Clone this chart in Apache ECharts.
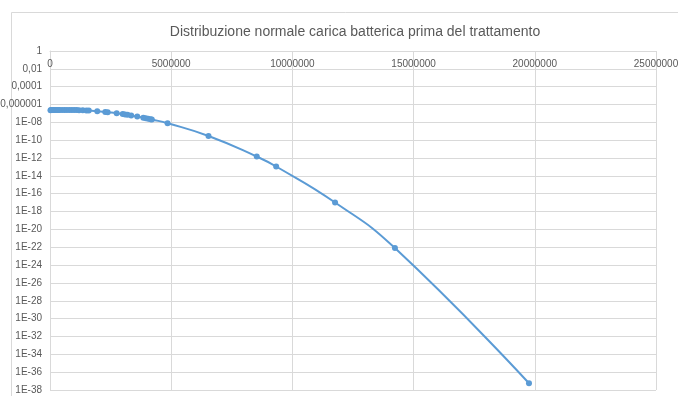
<!DOCTYPE html>
<html>
<head>
<meta charset="utf-8">
<title>Distribuzione normale carica batterica</title>
<script src="https://cdn.jsdelivr.net/npm/echarts@6/dist/echarts.min.js"></script>
<style>
  html, body { margin: 0; padding: 0; background: #ffffff; }
  #chart { width: 678px; height: 396px; }
</style>
</head>
<body>
<div id="chart"></div>
<script>
// Carica batterica (UFC) e densità di probabilità normale corrispondente
const caricaBatterica = [
  20000, 50000, 80000, 100000, 150000, 200000, 250000, 300000, 350000, 400000,
  500000, 600000, 700000, 800000, 900000, 1000000, 1100000, 1200000, 1350000,
  1500000, 1600000, 1950000, 2280000, 2380000, 2750000, 3000000, 3100000,
  3200000, 3350000, 3600000, 3850000, 3950000, 4050000, 4150000, 4200000,
  4850000, 6540000, 8530000, 9330000, 11760000, 14230000, 19760000
];
const densita = [
  2.34e-7, 2.36e-7, 2.38e-7, 2.38e-7, 2.41e-7, 2.43e-7, 2.45e-7, 2.46e-7, 2.48e-7, 2.49e-7,
  2.51e-7, 2.51e-7, 2.51e-7, 2.50e-7, 2.47e-7, 2.44e-7, 2.40e-7, 2.35e-7, 2.27e-7,
  2.16e-7, 2.09e-7, 1.79e-7, 1.48e-7, 1.38e-7, 1.05e-7, 8.44e-8, 7.69e-8,
  6.97e-8, 5.98e-8, 4.54e-8, 3.36e-8, 2.96e-8, 2.60e-8, 2.28e-8, 2.13e-8,
  8.0e-9, 2.94e-10, 1.47e-12, 1.13e-13, 1.05e-17, 8.1e-23, 5.7e-38
];

// Etichette dell'asse logaritmico (una ogni due potenze di dieci)
const etichetteY = [
  '1', '0,01', '0,0001', '0,000001', '1E-08', '1E-10', '1E-12', '1E-14', '1E-16',
  '1E-18', '1E-20', '1E-22', '1E-24', '1E-26', '1E-28', '1E-30', '1E-32',
  '1E-34', '1E-36', '1E-38'
];
const xMin = 0, xMax = 25000000, xPasso = 5000000;

const titolo = 'Distribuzione normale carica batterica prima del trattamento';

const punti = caricaBatterica.map((x, i) => [x, densita[i]]);

const FONT = "'Liberation Sans', Arial, sans-serif";
const GRIGIO = '#d9d9d9';
const TESTO = '#595959';
const BLU = '#5b9bd5';

// Asse logaritmico in base 1e19: l'estensione "nice" ricavata dai dati va
// da 1e-38 a 1; le divisioni cadono ogni due decadi (passo 2/19).
const BASE_LOG = 1e19;
const PASSO_LOG = 2 / 19;

const chart = echarts.init(document.getElementById('chart'), null, { renderer: 'canvas' });

chart.setOption({
  backgroundColor: '#ffffff',
  animation: false,
  textStyle: { fontFamily: FONT },
  title: {
    text: titolo,
    left: 350,
    top: 20,
    textAlign: 'center',
    textStyle: { fontFamily: FONT, fontSize: 14, fontWeight: 'normal', color: TESTO }
  },
  graphic: [{
    type: 'rect',
    silent: true,
    z: -10,
    shape: { x: 11.5, y: 12.5, width: 720, height: 420 },
    style: { fill: 'none', stroke: GRIGIO, lineWidth: 1 }
  }],
  grid: {
    left: 50, top: 51, width: 606, height: 339,
    containLabel: false,
    outerBoundsMode: 'none'
  },
  xAxis: {
    type: 'value',
    position: 'top',
    min: xMin,
    max: xMax,
    interval: xPasso,
    axisLine: { show: true, onZero: false, lineStyle: { color: GRIGIO, width: 1 } },
    axisTick: { show: false },
    splitLine: { show: true, lineStyle: { color: GRIGIO, width: 1 } },
    axisLabel: {
      inside: true,
      margin: 8,
      color: TESTO,
      fontSize: 10,
      fontFamily: FONT,
      formatter: v => String(Math.round(v))
    }
  },
  yAxis: {
    type: 'log',
    logBase: BASE_LOG,
    interval: PASSO_LOG,
    axisLine: { show: true, lineStyle: { color: GRIGIO, width: 1 } },
    axisTick: { show: false },
    splitLine: { show: true, lineStyle: { color: GRIGIO, width: 1 } },
    axisLabel: {
      margin: 8,
      color: TESTO,
      fontSize: 10,
      fontFamily: FONT,
      formatter: v => {
        const e = Math.round(Math.log10(v));
        const idx = Math.round(-e / 2);
        return etichetteY[idx] !== undefined ? etichetteY[idx] : '';
      }
    }
  },
  series: [{
    type: 'line',
    data: punti,
    smooth: 0.5,
    symbol: 'circle',
    symbolSize: 6,
    clip: false,
    lineStyle: { color: BLU, width: 2 },
    itemStyle: { color: BLU }
  }]
});
</script>
</body>
</html>
